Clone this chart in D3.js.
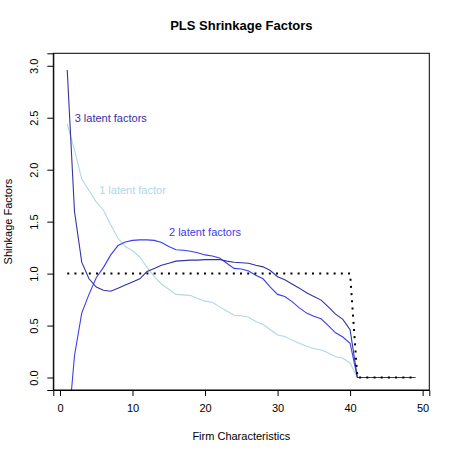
<!DOCTYPE html>
<html>
<head>
<meta charset="utf-8">
<script src="https://cdn.jsdelivr.net/npm/d3@7"></script>
<style>
  body { margin: 0; background: white; }
  text { font-family: "Liberation Sans", Arial, sans-serif; fill: black; }
</style>
</head>
<body>
<div id="container"></div>
<script>
var width = 457,
    height = 457;

// shrinkage factors for each firm characteristic (1..49)
var chars = d3.range(1, 50);

var oneFactor = [2.44, 2.19, 1.91, 1.80, 1.69, 1.61, 1.47, 1.34, 1.26, 1.22,
    1.16, 1.06, 0.97, 0.90, 0.85, 0.80, 0.795, 0.79, 0.76, 0.735,
    0.725, 0.68, 0.64, 0.60, 0.595, 0.58, 0.54, 0.51, 0.46, 0.41,
    0.395, 0.36, 0.33, 0.30, 0.28, 0.265, 0.235, 0.20, 0.185, 0.14,
    0, 0, 0, 0, 0, 0, 0, 0, 0];

var twoFactors = [-0.6, 0.21, 0.62, 0.80, 0.96, 1.06, 1.18, 1.27, 1.305, 1.32,
    1.325, 1.325, 1.32, 1.30, 1.26, 1.23, 1.225, 1.215, 1.20, 1.18,
    1.17, 1.15, 1.10, 1.05, 1.045, 1.025, 0.985, 0.95, 0.87, 0.80,
    0.78, 0.73, 0.67, 0.62, 0.59, 0.565, 0.50, 0.43, 0.39, 0.33,
    0, 0, 0, 0, 0, 0, 0, 0, 0];

var threeFactors = [2.96, 1.60, 1.11, 0.95, 0.87, 0.84, 0.83, 0.86, 0.89, 0.92,
    0.95, 1.02, 1.05, 1.08, 1.10, 1.12, 1.125, 1.13, 1.13, 1.135,
    1.135, 1.135, 1.12, 1.11, 1.105, 1.10, 1.08, 1.065, 1.03, 0.97,
    0.94, 0.90, 0.86, 0.815, 0.78, 0.745, 0.68, 0.61, 0.56, 0.46,
    0, 0, 0, 0, 0, 0, 0, 0, 0];

// OLS benchmark: 1 for the first 40 characteristics, 0 afterwards
var ols = chars.map(function (c) { return c <= 40 ? 1 : 0; });

var xTicks = [0, 10, 20, 30, 40, 50],
    yTicks = [0, 0.5, 1, 1.5, 2, 2.5, 3];

var labels = [
    { text: "3 latent factors", x: 7, y: 2.5, color: "#3232a6" },
    { text: "1 latent factor", x: 10, y: 1.8, color: "#add8e6" },
    { text: "2 latent factors", x: 20, y: 1.4, color: "#3c3cf0" }
];

var margin = { top: 53.3, right: 27.7, bottom: 67, left: 53.3 };

var svg = d3.select("#container")
    .append("svg")
    .attr("width", width)
    .attr("height", height);

// R style 4% extension of the ranges
var x = d3.scaleLinear()
    .domain([1 - 0.04 * 48, 49 + 0.04 * 48])
    .range([margin.left, width - margin.right]);

var y = d3.scaleLinear()
    .domain([-0.12, 3.12])
    .range([height - margin.bottom, margin.top]);

svg.append("clipPath").attr("id", "plotclip")
    .append("rect")
    .attr("x", margin.left)
    .attr("y", margin.top)
    .attr("width", width - margin.left - margin.right)
    .attr("height", height - margin.top - margin.bottom);

var linesG = svg.append("g").attr("clip-path", "url(#plotclip)");

function addLine(values, color, dash, lw) {
    var line = d3.line()
        .x(function (d, i) { return x(chars[i]); })
        .y(function (d) { return y(d); });
    linesG.append("path")
        .datum(values)
        .attr("d", line)
        .attr("fill", "none")
        .attr("stroke", color)
        .attr("stroke-width", lw)
        .attr("stroke-dasharray", dash);
}

addLine(oneFactor, "#add8e6", null, 1.1);
addLine(twoFactors, "#3c3cf0", null, 1.1);
addLine(threeFactors, "#3232a6", null, 1.1);
addLine(ols, "#000", "2,5.2", 2);

// plot frame
svg.append("rect")
    .attr("x", margin.left)
    .attr("y", margin.top)
    .attr("width", width - margin.left - margin.right)
    .attr("height", height - margin.top - margin.bottom)
    .attr("fill", "none")
    .attr("stroke", "black")
    .attr("stroke-width", 1);

var xAxis = svg.append("g")
    .attr("transform", "translate(0," + (height - margin.bottom) + ")")
    .call(d3.axisBottom(x).tickValues(xTicks).tickSize(6).tickPadding(8));

var yAxis = svg.append("g")
    .attr("transform", "translate(" + margin.left + ",0)")
    .call(d3.axisLeft(y).tickValues(yTicks).tickSize(6)
        .tickFormat(d3.format(".1f")));

[xAxis, yAxis].forEach(function (g) {
    g.select(".domain").attr("stroke", "black");
    g.selectAll("line").attr("stroke", "black");
    g.selectAll("text")
        .style("font-family", "Liberation Sans, Arial, sans-serif")
        .style("font-size", "11px")
        .attr("fill", "black");
});

// R draws y tick labels parallel to the axis
yAxis.selectAll(".tick text")
    .attr("x", null)
    .attr("dy", null)
    .attr("text-anchor", "middle")
    .attr("transform", "translate(-15,0) rotate(-90)");

svg.selectAll(".label")
    .data(labels)
    .enter().append("text")
    .attr("class", "label")
    .attr("x", function (d) { return x(d.x); })
    .attr("y", function (d) { return y(d.y); })
    .attr("dy", "0.35em")
    .attr("text-anchor", "middle")
    .style("font-size", "11px")
    .style("fill", function (d) { return d.color; })
    .text(function (d) { return d.text; });

svg.append("text")
    .attr("x", (margin.left + width - margin.right) / 2)
    .attr("y", 30)
    .attr("text-anchor", "middle")
    .style("font-size", "13px")
    .style("font-weight", "bold")
    .text("PLS Shrinkage Factors");

svg.append("text")
    .attr("x", (margin.left + width - margin.right) / 2)
    .attr("y", 440)
    .attr("text-anchor", "middle")
    .style("font-size", "11px")
    .text("Firm Characteristics");

svg.append("text")
    .attr("transform", "translate(12," + ((margin.top + height - margin.bottom) / 2) + ") rotate(-90)")
    .attr("text-anchor", "middle")
    .style("font-size", "11px")
    .text("Shinkage Factors");
</script>
</body>
</html>
